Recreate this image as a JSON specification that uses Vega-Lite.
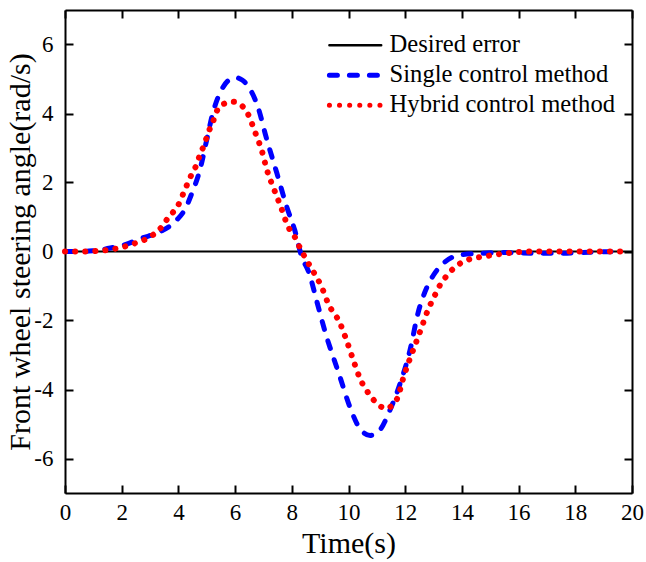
{
  "$schema": "https://vega.github.io/schema/vega-lite/v6.json",
  "width": 567,
  "height": 483,
  "autosize": {"type": "none"},
  "padding": {"left": 65, "top": 10, "right": 14, "bottom": 69},
  "background": "white",
  "config": {
    "view": {"stroke": null},
    "font": "Liberation Serif",
    "axis": {
      "domainColor": "black", "domainWidth": 2,
      "tickColor": "black", "tickWidth": 2, "tickSize": -8,
      "labelFont": "Liberation Serif", "labelFontSize": 23, "labelColor": "black", "labelFlush": false,
      "titleFont": "Liberation Serif", "titleFontSize": 30, "titleFontWeight": "normal", "titleColor": "black",
      "grid": false
    },
    "legend": {"labelFont": "Liberation Serif", "labelFontSize": 24.6, "labelColor": "black", "labelLimit": 400}
  },
  "datasets": {
    "curves": [
      {"t": 0, "v": 0, "series": "Desired error"},
      {"t": 20, "v": 0, "series": "Desired error"},
      {"t": 0, "v": 0, "series": "Single control method"},
      {"t": 0.5, "v": 0, "series": "Single control method"},
      {"t": 1.0, "v": 0.02, "series": "Single control method"},
      {"t": 1.6, "v": 0.1, "series": "Single control method"},
      {"t": 2.2, "v": 0.22, "series": "Single control method"},
      {"t": 2.65, "v": 0.37, "series": "Single control method"},
      {"t": 3.35, "v": 0.57, "series": "Single control method"},
      {"t": 3.95, "v": 0.92, "series": "Single control method"},
      {"t": 4.25, "v": 1.25, "series": "Single control method"},
      {"t": 4.48, "v": 1.7, "series": "Single control method"},
      {"t": 4.76, "v": 2.37, "series": "Single control method"},
      {"t": 5.0, "v": 3.24, "series": "Single control method"},
      {"t": 5.22, "v": 4.03, "series": "Single control method"},
      {"t": 5.53, "v": 4.7, "series": "Single control method"},
      {"t": 5.75, "v": 4.95, "series": "Single control method"},
      {"t": 6.0, "v": 5.04, "series": "Single control method"},
      {"t": 6.25, "v": 4.97, "series": "Single control method"},
      {"t": 6.46, "v": 4.79, "series": "Single control method"},
      {"t": 6.8, "v": 4.2, "series": "Single control method"},
      {"t": 7.12, "v": 3.24, "series": "Single control method"},
      {"t": 7.47, "v": 2.28, "series": "Single control method"},
      {"t": 7.82, "v": 1.3, "series": "Single control method"},
      {"t": 8.1, "v": 0.63, "series": "Single control method"},
      {"t": 8.35, "v": -0.15, "series": "Single control method"},
      {"t": 8.6, "v": -0.6, "series": "Single control method"},
      {"t": 8.9, "v": -1.5, "series": "Single control method"},
      {"t": 9.2, "v": -2.4, "series": "Single control method"},
      {"t": 9.5, "v": -3.15, "series": "Single control method"},
      {"t": 9.7, "v": -3.64, "series": "Single control method"},
      {"t": 10.05, "v": -4.51, "series": "Single control method"},
      {"t": 10.4, "v": -5.13, "series": "Single control method"},
      {"t": 10.76, "v": -5.33, "series": "Single control method"},
      {"t": 11.1, "v": -5.18, "series": "Single control method"},
      {"t": 11.46, "v": -4.6, "series": "Single control method"},
      {"t": 11.82, "v": -3.83, "series": "Single control method"},
      {"t": 12.17, "v": -2.86, "series": "Single control method"},
      {"t": 12.45, "v": -1.79, "series": "Single control method"},
      {"t": 12.77, "v": -1.03, "series": "Single control method"},
      {"t": 13.0, "v": -0.68, "series": "Single control method"},
      {"t": 13.35, "v": -0.34, "series": "Single control method"},
      {"t": 13.93, "v": -0.1, "series": "Single control method"},
      {"t": 14.75, "v": -0.05, "series": "Single control method"},
      {"t": 15.5, "v": -0.03, "series": "Single control method"},
      {"t": 16.5, "v": -0.05, "series": "Single control method"},
      {"t": 17.5, "v": -0.05, "series": "Single control method"},
      {"t": 18.5, "v": -0.02, "series": "Single control method"},
      {"t": 19.65, "v": 0, "series": "Single control method"},
      {"t": 0, "v": 0, "series": "Hybrid control method"},
      {"t": 0.6, "v": 0, "series": "Hybrid control method"},
      {"t": 1.2, "v": 0.02, "series": "Hybrid control method"},
      {"t": 1.7, "v": 0.07, "series": "Hybrid control method"},
      {"t": 2.4, "v": 0.22, "series": "Hybrid control method"},
      {"t": 3.1, "v": 0.48, "series": "Hybrid control method"},
      {"t": 3.42, "v": 0.72, "series": "Hybrid control method"},
      {"t": 3.63, "v": 0.97, "series": "Hybrid control method"},
      {"t": 3.88, "v": 1.21, "series": "Hybrid control method"},
      {"t": 4.06, "v": 1.45, "series": "Hybrid control method"},
      {"t": 4.2, "v": 1.74, "series": "Hybrid control method"},
      {"t": 4.34, "v": 2.0, "series": "Hybrid control method"},
      {"t": 4.49, "v": 2.28, "series": "Hybrid control method"},
      {"t": 4.66, "v": 2.55, "series": "Hybrid control method"},
      {"t": 4.76, "v": 2.81, "series": "Hybrid control method"},
      {"t": 4.9, "v": 3.07, "series": "Hybrid control method"},
      {"t": 5.05, "v": 3.44, "series": "Hybrid control method"},
      {"t": 5.22, "v": 3.76, "series": "Hybrid control method"},
      {"t": 5.35, "v": 4.06, "series": "Hybrid control method"},
      {"t": 5.6, "v": 4.28, "series": "Hybrid control method"},
      {"t": 5.93, "v": 4.34, "series": "Hybrid control method"},
      {"t": 6.27, "v": 4.2, "series": "Hybrid control method"},
      {"t": 6.45, "v": 3.99, "series": "Hybrid control method"},
      {"t": 6.7, "v": 3.47, "series": "Hybrid control method"},
      {"t": 6.95, "v": 2.9, "series": "Hybrid control method"},
      {"t": 7.12, "v": 2.37, "series": "Hybrid control method"},
      {"t": 7.37, "v": 1.81, "series": "Hybrid control method"},
      {"t": 7.62, "v": 1.28, "series": "Hybrid control method"},
      {"t": 7.87, "v": 0.72, "series": "Hybrid control method"},
      {"t": 8.1, "v": 0.43, "series": "Hybrid control method"},
      {"t": 8.25, "v": 0.17, "series": "Hybrid control method"},
      {"t": 8.57, "v": -0.32, "series": "Hybrid control method"},
      {"t": 8.75, "v": -0.57, "series": "Hybrid control method"},
      {"t": 9.07, "v": -1.06, "series": "Hybrid control method"},
      {"t": 9.28, "v": -1.5, "series": "Hybrid control method"},
      {"t": 9.7, "v": -2.08, "series": "Hybrid control method"},
      {"t": 9.95, "v": -2.62, "series": "Hybrid control method"},
      {"t": 10.17, "v": -3.15, "series": "Hybrid control method"},
      {"t": 10.4, "v": -3.67, "series": "Hybrid control method"},
      {"t": 10.76, "v": -4.17, "series": "Hybrid control method"},
      {"t": 11.0, "v": -4.4, "series": "Hybrid control method"},
      {"t": 11.32, "v": -4.55, "series": "Hybrid control method"},
      {"t": 11.55, "v": -4.45, "series": "Hybrid control method"},
      {"t": 11.75, "v": -4.2, "series": "Hybrid control method"},
      {"t": 11.92, "v": -3.7, "series": "Hybrid control method"},
      {"t": 12.17, "v": -3.1, "series": "Hybrid control method"},
      {"t": 12.4, "v": -2.6, "series": "Hybrid control method"},
      {"t": 12.6, "v": -2.15, "series": "Hybrid control method"},
      {"t": 12.8, "v": -1.7, "series": "Hybrid control method"},
      {"t": 13.0, "v": -1.35, "series": "Hybrid control method"},
      {"t": 13.23, "v": -0.97, "series": "Hybrid control method"},
      {"t": 13.47, "v": -0.7, "series": "Hybrid control method"},
      {"t": 13.76, "v": -0.45, "series": "Hybrid control method"},
      {"t": 14.18, "v": -0.25, "series": "Hybrid control method"},
      {"t": 14.75, "v": -0.15, "series": "Hybrid control method"},
      {"t": 15.6, "v": -0.05, "series": "Hybrid control method"},
      {"t": 16.5, "v": 0, "series": "Hybrid control method"},
      {"t": 19.65, "v": 0, "series": "Hybrid control method"}
    ]
  },
  "data": {"name": "curves"},
  "layer": [
    {
      "transform": [{"filter": "datum.series === 'Desired error'"}],
      "mark": {"type": "line", "strokeWidth": 2},
      "encoding": {
        "x": {
          "field": "t", "type": "quantitative",
          "scale": {"domain": [0, 20], "nice": false},
          "axis": {"orient": "top", "labels": false, "title": null, "values": [0, 2, 4, 6, 8, 10, 12, 14, 16, 18, 20]}
        },
        "y": {
          "field": "v", "type": "quantitative",
          "scale": {"domain": [-7, 7], "nice": false},
          "axis": {"orient": "right", "labels": false, "title": null, "values": [-6, -4, -2, 0, 2, 4, 6]}
        },
        "color": {
          "field": "series", "type": "nominal",
          "scale": {
            "domain": ["Desired error", "Single control method", "Hybrid control method"],
            "range": ["#000000", "#0000ff", "#ff0000"]
          },
          "legend": {
            "orient": "none", "legendX": 257, "legendY": 23, "title": null,
            "symbolType": "M-0.7,0H6.7", "symbolSize": 196, "symbolStrokeWidth": 5,
            "labelOffset": 43, "labelFontSize": 24.6, "labelFont": "Liberation Serif", "labelColor": "black", "labelLimit": 400,
            "rowPadding": 5, "padding": 0,
            "encoding": {
              "symbols": {
                "strokeCap": {"value": "round"},
                "strokeWidth": {"value": {"expr": "datum.value === 'Desired error' ? 2.5 : 5"}}
              }
            }
          }
        },
        "strokeDash": {
          "field": "series", "type": "nominal",
          "scale": {
            "domain": ["Desired error", "Single control method", "Hybrid control method"],
            "range": [[1, 0], [8, 12], [0.1, 10]]
          },
          "legend": {
            "orient": "none", "legendX": 257, "legendY": 23, "title": null,
            "symbolType": "M-0.7,0H6.7", "symbolSize": 196, "symbolStrokeWidth": 5,
            "labelOffset": 43, "labelFontSize": 24.6, "labelFont": "Liberation Serif", "labelColor": "black", "labelLimit": 400,
            "rowPadding": 5, "padding": 0,
            "encoding": {
              "symbols": {
                "strokeCap": {"value": "round"},
                "strokeWidth": {"value": {"expr": "datum.value === 'Desired error' ? 2.5 : 5"}}
              }
            }
          }
        }
      }
    },
    {
      "transform": [{"filter": "datum.series === 'Single control method'"}],
      "mark": {"type": "line", "strokeWidth": 5, "strokeCap": "round", "interpolate": "monotone"},
      "encoding": {
        "x": {
          "field": "t", "type": "quantitative",
          "scale": {"domain": [0, 20], "nice": false},
          "axis": {"orient": "bottom", "title": "Time(s)", "values": [0, 2, 4, 6, 8, 10, 12, 14, 16, 18, 20], "labelPadding": 16, "labelFont": "Liberation Serif", "labelFontSize": 23, "labelFlush": false}
        },
        "y": {
          "field": "v", "type": "quantitative",
          "scale": {"domain": [-7, 7], "nice": false},
          "axis": {"orient": "left", "title": "Front wheel steering angle(rad/s)", "values": [-6, -4, -2, 0, 2, 4, 6], "labelPadding": 20, "titlePadding": -2, "labelExpr": "'' + datum.value", "labelFont": "Liberation Serif", "labelFontSize": 23}
        },
        "color": {"field": "series", "type": "nominal"},
        "strokeDash": {"field": "series", "type": "nominal"},
        "order": {"field": "t", "type": "quantitative"}
      }
    },
    {
      "transform": [{"filter": "datum.series === 'Hybrid control method'"}],
      "mark": {"type": "line", "strokeWidth": 6, "strokeCap": "round", "interpolate": "monotone"},
      "encoding": {
        "x": {"field": "t", "type": "quantitative", "axis": null},
        "y": {"field": "v", "type": "quantitative", "axis": null},
        "color": {"field": "series", "type": "nominal"},
        "strokeDash": {"field": "series", "type": "nominal"},
        "order": {"field": "t", "type": "quantitative"}
      }
    }
  ],
  "resolve": {"axis": {"x": "independent", "y": "independent"}}
}
